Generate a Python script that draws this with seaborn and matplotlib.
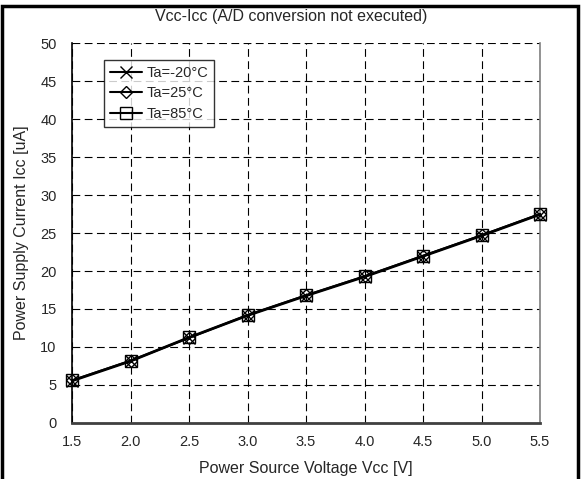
import numpy as np
import pandas as pd
import seaborn as sns
import matplotlib.pyplot as plt
from matplotlib.patches import Rectangle

# data
vcc = [1.5, 2.0, 2.5, 3.0, 3.5, 4.0, 4.5, 5.0, 5.5]
icc_m20 = [5.5, 8.1, 11.2, 14.1, 16.7, 19.2, 21.9, 24.6, 27.4]
icc_25 = [5.6, 8.2, 11.2, 14.2, 16.8, 19.3, 22.0, 24.7, 27.5]
icc_85 = [5.6, 8.2, 11.3, 14.2, 16.8, 19.3, 22.0, 24.7, 27.5]
series_names = ["Ta=-20°C", "Ta=25°C", "Ta=85°C"]
series_markers = ["x", "D", "s"]
x_ticks = [1.5, 2.0, 2.5, 3.0, 3.5, 4.0, 4.5, 5.0, 5.5]
y_ticks = [0, 5, 10, 15, 20, 25, 30, 35, 40, 45, 50]

sns.set_style("white")
plt.rcParams['font.family'] = ['Liberation Sans', 'DejaVu Sans']

df = pd.DataFrame({
    "vcc": vcc * 3,
    "icc": icc_m20 + icc_25 + icc_85,
    "ta": [n for n in series_names for _ in vcc],
})

fig = plt.figure(figsize=(5.82, 4.79), dpi=100)
ax = fig.add_axes([72 / 582, 1 - 423 / 479, 468 / 582, 380 / 479])

sizes = {"x": 9, "D": 6, "s": 8}
for name, mk in zip(series_names, series_markers):
    sub = df[df["ta"] == name]
    sns.lineplot(data=sub, x="vcc", y="icc", ax=ax, color="black", lw=1.5,
                 marker=mk, markersize=sizes[mk], markerfacecolor="none",
                 markeredgecolor="black", markeredgewidth=1.0, label=name,
                 clip_on=False, zorder=3)

ax.set_xlim(1.5, 5.5)
ax.set_ylim(0, 50)
ax.set_xticks(x_ticks)
ax.set_xticklabels([f"{v:.1f}" for v in x_ticks])
ax.set_yticks(y_ticks)

ax.grid(True, color="black", linestyle=(0, (7, 4)), linewidth=0.8)
ax.set_axisbelow(True)

ax.spines["top"].set_visible(False)
ax.spines["left"].set_color("black")
ax.spines["left"].set_linewidth(1.2)
ax.spines["bottom"].set_color("#404040")
ax.spines["bottom"].set_linewidth(2)
ax.spines["right"].set_color("#808080")
ax.spines["right"].set_linewidth(1.2)

ax.tick_params(axis="both", direction="in", length=5, width=1, color="black",
               labelsize=10.5, pad=11)
ax.tick_params(axis="x", pad=9)

ax.set_xlabel("Power Source Voltage Vcc [V]", fontsize=11.5, labelpad=8)
ax.set_ylabel("Power Supply Current Icc [uA]", fontsize=11.5, labelpad=8)
fig.text(0.5, 1 - 17 / 479, "Vcc-Icc (A/D conversion not executed)",
         ha="center", va="center", fontsize=11.5)

leg = ax.legend(loc="upper left", bbox_to_anchor=(32 / 468, 1 - 17 / 380),
                frameon=True, fancybox=False, fontsize=10.5, handlelength=2.2,
                handletextpad=0.3, borderpad=0.4, labelspacing=0.45,
                borderaxespad=0)
leg.get_frame().set_edgecolor("black")
leg.get_frame().set_linewidth(1.0)

# outer frame of the original figure
fig.patches.append(Rectangle((2 / 582, -0.05), 576 / 582, 1.05 - 6.5 / 479,
                             transform=fig.transFigure, fill=False,
                             edgecolor="black", linewidth=2.5, clip_on=False))

fig.savefig("out.png", dpi=100)
